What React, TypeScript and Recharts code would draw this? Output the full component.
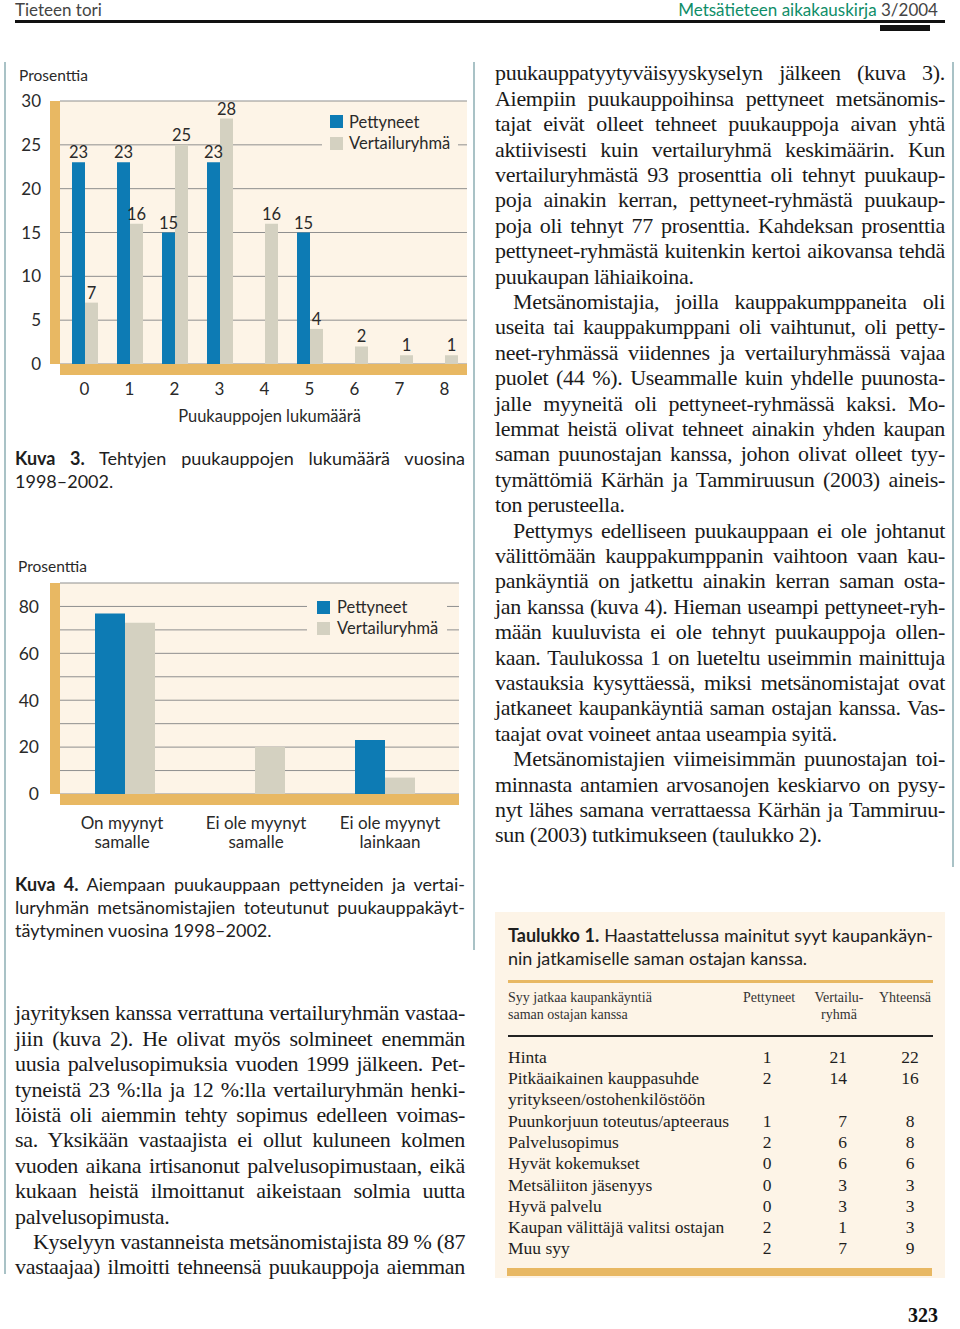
import React from 'react';
import * as RC from 'recharts';
import { BarChart, Bar, XAxis, YAxis, CartesianGrid, Legend, LabelList, Customized } from 'recharts';

// ---------- data ----------
const fig3Categories = ['0', '1', '2', '3', '4', '5', '6', '7', '8'];
const fig3Pettyneet = [23, 23, 15, 23, 0, 15, 0, 0, 0];
const fig3Vertailu = [7, 16, 25, 28, 16, 4, 2, 1, 1];
const fig3Ticks = [0, 5, 10, 15, 20, 25, 30];

const fig4Categories = ['On myynyt\nsamalle', 'Ei ole myynyt\nsamalle', 'Ei ole myynyt\nlainkaan'];
const fig4Pettyneet = [77, 0, 23];
const fig4Vertailu = [73, 20, 7];
const fig4Ticks = [0, 10, 20, 30, 40, 50, 60, 70, 80, 90];
const fig4TickLabels = [0, 20, 40, 60, 80];

const seriesNames = ['Pettyneet', 'Vertailuryhmä'];

const tableReasons = [
  'Hinta',
  'Pitkäaikainen kauppasuhde',
  'yritykseen/ostohenkilöstöön',
  'Puunkorjuun toteutus/apteeraus',
  'Palvelusopimus',
  'Hyvät kokemukset',
  'Metsäliiton jäsenyys',
  'Hyvä palvelu',
  'Kaupan välittäjä valitsi ostajan',
  'Muu syy',
];
const tablePettyneet = ['1', '2', '', '1', '2', '0', '0', '0', '2', '2'];
const tableVertailu = ['21', '14', '', '7', '6', '6', '3', '3', '1', '7'];
const tableYhteensa = ['22', '16', '', '8', '8', '6', '3', '3', '3', '9'];

const fig3Data = fig3Categories.map((c, i) => ({ cat: c, p: fig3Pettyneet[i], v: fig3Vertailu[i] }));
const fig4Data = fig4Categories.map((c, i) => ({ cat: c, p: fig4Pettyneet[i], v: fig4Vertailu[i] }));

// ---------- text ----------
const rightCol: [string, number][] = [
  ['puukauppatyytyväisyyskyselyn jälkeen (kuva 3).', 0],
  ['Aiempiin puukauppoihinsa pettyneet metsänomis-', 0],
  ['tajat eivät olleet tehneet puukauppoja aivan yhtä', 0],
  ['aktiivisesti kuin vertailuryhmä keskimäärin. Kun', 0],
  ['vertailuryhmästä 93 prosenttia oli tehnyt puukaup-', 0],
  ['poja ainakin kerran, pettyneet-ryhmästä puukaup-', 0],
  ['poja oli tehnyt 77 prosenttia. Kahdeksan prosenttia', 0],
  ['pettyneet-ryhmästä kuitenkin kertoi aikovansa tehdä', 0],
  ['puukaupan lähiaikoina.', 2],
  ['Metsänomistajia, joilla kauppakumppaneita oli', 1],
  ['useita tai kauppakumppani oli vaihtunut, oli petty-', 0],
  ['neet-ryhmässä viidennes ja vertailuryhmässä vajaa', 0],
  ['puolet (44 %). Useammalle kuin yhdelle puunosta-', 0],
  ['jalle myyneitä oli pettyneet-ryhmässä kaksi. Mo-', 0],
  ['lemmat heistä olivat tehneet ainakin yhden kaupan', 0],
  ['saman puunostajan kanssa, johon olivat olleet tyy-', 0],
  ['tymättömiä Kärhän ja Tammiruusun (2003) aineis-', 0],
  ['ton perusteella.', 2],
  ['Pettymys edelliseen puukauppaan ei ole johtanut', 1],
  ['välittömään kauppakumppanin vaihtoon vaan kau-', 0],
  ['pankäyntiä on jatkettu ainakin kerran saman osta-', 0],
  ['jan kanssa (kuva 4). Hieman useampi pettyneet-ryh-', 0],
  ['mään kuuluvista ei ole tehnyt puukauppoja ollen-', 0],
  ['kaan. Taulukossa 1 on lueteltu useimmin mainittuja', 0],
  ['vastauksia kysyttäessä, miksi metsänomistajat ovat', 0],
  ['jatkaneet kaupankäyntiä saman ostajan kanssa. Vas-', 0],
  ['taajat ovat voineet antaa useampia syitä.', 2],
  ['Metsänomistajien viimeisimmän puunostajan toi-', 1],
  ['minnasta antamien arvosanojen keskiarvo on pysy-', 0],
  ['nyt lähes samana verrattaessa Kärhän ja Tammiruu-', 0],
  ['sun (2003) tutkimukseen (taulukko 2).', 2],
];

const leftCol: [string, number][] = [
  ['jayrityksen kanssa verrattuna vertailuryhmän vastaa-', 0],
  ['jiin (kuva 2). He olivat myös solmineet enemmän', 0],
  ['uusia palvelusopimuksia vuoden 1999 jälkeen. Pet-', 0],
  ['tyneistä 23 %:lla ja 12 %:lla vertailuryhmän henki-', 0],
  ['löistä oli aiemmin tehty sopimus edelleen voimas-', 0],
  ['sa. Yksikään vastaajista ei ollut kuluneen kolmen', 0],
  ['vuoden aikana irtisanonut palvelusopimustaan, eikä', 0],
  ['kukaan heistä ilmoittanut aikeistaan solmia uutta', 0],
  ['palvelusopimusta.', 2],
  ['Kyselyyn vastanneista metsänomistajista 89 % (87', 1],
  ['vastaajaa) ilmoitti tehneensä puukauppoja aiemman', 0],
];

// ---------- style ----------
const BLUE = '#0d7bb4';
const GREY = '#d4d1c1';
const ORANGE = '#e8b863';
const CREAM = '#fdf4e7';
const GRIDC = '#8f8f8f';
const TXT = '#2a2a2a';
const SANS = 'Lato, "Noto Sans", sans-serif';
const SERIF = '"Liberation Serif", "DejaVu Serif", serif';

function AxisDecor() {
  const usePA = (RC as any).usePlotArea;
  const pa = usePA ? usePA() : null;
  if (!pa) return null;
  return (
    <g>
      <rect x={pa.x - 10} y={pa.y} width={10} height={pa.height} fill={ORANGE} />
      <rect x={pa.x} y={pa.y + pa.height} width={pa.width} height={11} fill={ORANGE} />
    </g>
  );
}

const barLabel = (props: any) => {
  const { x, y, width, value } = props;
  if (!value) return null;
  return (
    <text x={x + width / 2} y={y - 10} textAnchor="middle" dominantBaseline="central" fontSize={16.5} fill={TXT} fontFamily={SANS}>
      {value}
    </text>
  );
};

const makeLegend = (padLeft: number, gap: number, rowH: number) => (props: any) => {
  const payload = props.payload || [];
  return (
    <div style={{ background: CREAM, paddingLeft: padLeft, fontFamily: SANS, fontSize: 16.5, color: TXT }}>
      {payload.map((p: any) => (
        <div key={p.value} style={{ display: 'flex', alignItems: 'center', height: rowH }}>
          <span style={{ display: 'inline-block', width: 13, height: 13, background: p.color, marginRight: gap }} />
          <span>{p.value}</span>
        </div>
      ))}
    </div>
  );
};

const YTick3 = (props: any) => {
  const { x, y, payload } = props;
  return (
    <text x={x} y={y} dy="0.36em" textAnchor="end" fontSize={17} fill={TXT} fontFamily={SANS}>
      {payload.value}
    </text>
  );
};

const YTick4 = (props: any) => {
  const { x, y, payload } = props;
  if (!fig4TickLabels.includes(payload.value)) return <g />;
  return (
    <text x={x} y={y} dy="0.36em" textAnchor="end" fontSize={17.5} fill={TXT} fontFamily={SANS}>
      {payload.value}
    </text>
  );
};

const XTick3 = (props: any) => {
  const { x, y, payload } = props;
  return (
    <text x={x} y={y + 25} dy="0.36em" textAnchor="middle" fontSize={17} fill={TXT} fontFamily={SANS}>
      {payload.value}
    </text>
  );
};

const XTick4 = (props: any) => {
  const { x, y, payload, index } = props;
  const parts = String(payload.value).split('\n');
  const cx = x + (index || 0) * 4 - 3;
  return (
    <text x={cx} y={y} textAnchor="middle" fontSize={17} fill={TXT} fontFamily={SANS}>
      {parts.map((t, i) => (
        <tspan key={i} x={cx} y={y + 29 + i * 19} dy="0.36em">
          {t}
        </tspan>
      ))}
    </text>
  );
};

function Figure3() {
  return (
    <BarChart width={480} height={370} data={fig3Data} margin={{ top: 41, right: 13, bottom: 0, left: 0 }} barGap={0} barSize={13}>
      <CartesianGrid vertical={false} stroke={GRIDC} fill={CREAM} />
      <Customized component={AxisDecor} />
      <XAxis
        dataKey="cat"
        height={66}
        axisLine={false}
        tickLine={false}
        tickSize={0}
        tickMargin={0}
        padding={{ left: 2, right: 0 }}
        tick={XTick3}
        interval={0}
        label={{ value: 'Puukauppojen lukumäärä', position: 'insideBottom', offset: 8, dx: 6, fontSize: 16.5, fill: TXT, fontFamily: SANS }}
      />
      <YAxis width={60} domain={[0, 30]} ticks={fig3Ticks} axisLine={false} tickLine={false} tickSize={0} tickMargin={19} tick={YTick3} />
      <Legend
        layout="vertical"
        align="center"
        verticalAlign="middle"
        content={makeLegend(8, 6, 21.5)}
        wrapperStyle={{ position: 'absolute', left: 322, top: 51, width: 136, bottom: 'auto', right: 'auto' }}
      />
      <Bar dataKey="p" name={seriesNames[0]} fill={BLUE} isAnimationActive={false}>
        <LabelList dataKey="p" content={barLabel} />
      </Bar>
      <Bar dataKey="v" name={seriesNames[1]} fill={GREY} isAnimationActive={false}>
        <LabelList dataKey="v" content={barLabel} />
      </Bar>
    </BarChart>
  );
}

function Figure4() {
  return (
    <BarChart width={480} height={310} data={fig4Data} margin={{ top: 33, right: 21, bottom: 0, left: 0 }} barGap={0} barSize={30}>
      <CartesianGrid vertical={false} stroke={GRIDC} fill={CREAM} />
      <Customized component={AxisDecor} />
      <XAxis dataKey="cat" height={66} axisLine={false} tickLine={false} tickSize={0} tickMargin={0} padding={{ left: 0, right: 9 }} tick={XTick4} interval={0} />
      <YAxis width={60} domain={[0, 90]} ticks={fig4Ticks} axisLine={false} tickLine={false} tickSize={0} tickMargin={21} tick={YTick4} />
      <Legend
        layout="vertical"
        align="center"
        verticalAlign="middle"
        content={makeLegend(10, 7, 21)}
        wrapperStyle={{ position: 'absolute', left: 307, top: 46.5, width: 140, bottom: 'auto', right: 'auto' }}
      />
      <Bar dataKey="p" name={seriesNames[0]} fill={BLUE} isAnimationActive={false} />
      <Bar dataKey="v" name={seriesNames[1]} fill={GREY} isAnimationActive={false} />
    </BarChart>
  );
}

function Column({ lines, x, y0, width, lh }: { lines: [string, number][]; x: number; y0: number; width: number; lh: number }) {
  return (
    <>
      {lines.map(([t, kind], i) => (
        <div
          key={i}
          style={{
            position: 'absolute',
            left: x + (kind === 1 ? 18 : 0),
            top: y0 + i * lh - lh / 2,
            width: width - (kind === 1 ? 18 : 0),
            height: lh,
            lineHeight: lh + 'px',
            whiteSpace: 'nowrap',
            textAlign: kind === 2 ? 'left' : 'justify',
            textAlignLast: kind === 2 ? 'left' : 'justify',
            fontFamily: SERIF,
            fontSize: 22,
            letterSpacing: -0.3,
            color: '#1a1a1a',
          }}
        >
          {t}
        </div>
      ))}
    </>
  );
}

const lineStyle = (x: number, y: number, w: number, fs: number, last = false): React.CSSProperties => ({
  position: 'absolute',
  left: x,
  top: y - 12,
  width: w,
  height: 24,
  lineHeight: '24px',
  whiteSpace: 'nowrap',
  textAlign: last ? 'left' : 'justify',
  textAlignLast: last ? 'left' : 'justify',
  fontFamily: SANS,
  fontSize: fs,
  color: '#1e1e1e',
});

export default function App() {
  const rowY0 = 1056.7;
  const rowH = 21.3;
  const tblFs = 17.5;
  return (
    <div style={{ position: 'absolute', left: 0, top: 0, width: 960, height: 1329, background: '#fff', overflow: 'hidden' }}>
      {/* header */}
      <div style={{ position: 'absolute', left: 15, top: 1, height: 17, lineHeight: '17px', fontFamily: SANS, fontSize: 17, color: '#444' }}>Tieteen tori</div>
      <div style={{ position: 'absolute', right: 22, top: 1, height: 17, lineHeight: '17px', fontFamily: SANS, fontSize: 17, whiteSpace: 'nowrap' }}>
        <span style={{ color: '#0f8d68' }}>Metsätieteen aikakauskirja</span> <span style={{ color: '#444' }}>3/2004</span>
      </div>
      <div style={{ position: 'absolute', left: 15, top: 20, width: 930, height: 2.5, background: '#111' }} />
      <div style={{ position: 'absolute', left: 880, top: 25, width: 50, height: 6, background: '#111' }} />

      {/* frame lines */}
      <div style={{ position: 'absolute', left: 4, top: 62, width: 2, height: 1212, background: '#a9c2c6' }} />
      <div style={{ position: 'absolute', left: 473, top: 62, width: 2, height: 888, background: '#a9c2c6' }} />
      <div style={{ position: 'absolute', left: 952, top: 62, width: 2, height: 805, background: '#a9c2c6' }} />

      {/* figure 3 */}
      <div style={{ position: 'absolute', left: 19, top: 66, fontFamily: SANS, fontSize: 15.5, color: TXT }}>Prosenttia</div>
      <div style={{ position: 'absolute', left: 0, top: 60 }}>
        <Figure3 />
      </div>
      <div style={lineStyle(15, 458, 450, 18)}>
        <b>Kuva 3.</b> Tehtyjen puukauppojen lukumäärä vuosina
      </div>
      <div style={lineStyle(15, 481, 450, 18, true)}>1998–2002.</div>

      {/* figure 4 */}
      <div style={{ position: 'absolute', left: 18, top: 557, fontFamily: SANS, fontSize: 15.5, color: TXT }}>Prosenttia</div>
      <div style={{ position: 'absolute', left: 0, top: 550 }}>
        <Figure4 />
      </div>
      <div style={lineStyle(15, 884, 450, 18)}>
        <b>Kuva 4.</b> Aiempaan puukauppaan pettyneiden ja vertai-
      </div>
      <div style={lineStyle(15, 907, 450, 18)}>luryhmän metsänomistajien toteutunut puukauppakäyt-</div>
      <div style={lineStyle(15, 930, 450, 18, true)}>täytyminen vuosina 1998–2002.</div>

      {/* text columns */}
      <Column lines={rightCol} x={495} y0={73} width={450} lh={25.4} />
      <Column lines={leftCol} x={15} y0={1013} width={450} lh={25.4} />

      {/* table */}
      <div style={{ position: 'absolute', left: 495, top: 912, width: 450, height: 366, background: CREAM }} />
      <div style={lineStyle(508, 935, 425, 18)}>
        <b>Taulukko 1.</b> Haastattelussa mainitut syyt kaupankäyn-
      </div>
      <div style={lineStyle(508, 958, 425, 18, true)}>nin jatkamiselle saman ostajan kanssa.</div>
      <div style={{ position: 'absolute', left: 508, top: 979.5, width: 425, height: 3, background: ORANGE }} />
      <div style={{ position: 'absolute', left: 508, top: 1035, width: 425, height: 1.5, background: '#222' }} />
      <div style={{ position: 'absolute', left: 507, top: 1268, width: 425, height: 8, background: ORANGE }} />

      {[
        ['Syy jatkaa kaupankäyntiä', 508, 998, 'left'],
        ['saman ostajan kanssa', 508, 1015, 'left'],
        ['Pettyneet', 769, 998, 'center'],
        ['Vertailu-', 839, 998, 'center'],
        ['ryhmä', 839, 1015, 'center'],
        ['Yhteensä', 905, 998, 'center'],
      ].map(([t, x, y, a], i) => (
        <div
          key={'h' + i}
          style={{
            position: 'absolute',
            left: a === 'left' ? (x as number) : (x as number) - 60,
            width: a === 'left' ? 220 : 120,
            top: (y as number) - 9,
            height: 18,
            lineHeight: '18px',
            textAlign: a as any,
            fontFamily: SERIF,
            fontSize: 14,
            color: '#333',
            whiteSpace: 'nowrap',
          }}
        >
          {t}
        </div>
      ))}

      {tableReasons.map((r, i) => {
        const y = rowY0 + i * rowH;
        const base: React.CSSProperties = {
          position: 'absolute',
          top: y - 11,
          height: 22,
          lineHeight: '22px',
          fontFamily: SERIF,
          fontSize: tblFs,
          color: '#1e1e1e',
          whiteSpace: 'nowrap',
        };
        return (
          <React.Fragment key={'r' + i}>
            <div style={{ ...base, left: 508 }}>{r}</div>
            <div style={{ ...base, left: 737, width: 60, textAlign: 'center' }}>{tablePettyneet[i]}</div>
            <div style={{ ...base, left: 787, width: 60, textAlign: 'right' }}>{tableVertailu[i]}</div>
            <div style={{ ...base, left: 880, width: 60, textAlign: 'center' }}>{tableYhteensa[i]}</div>
          </React.Fragment>
        );
      })}

      {/* page number */}
      <div style={{ position: 'absolute', left: 908, top: 1304, fontFamily: SERIF, fontWeight: 700, fontSize: 20, color: '#111' }}>323</div>
    </div>
  );
}
